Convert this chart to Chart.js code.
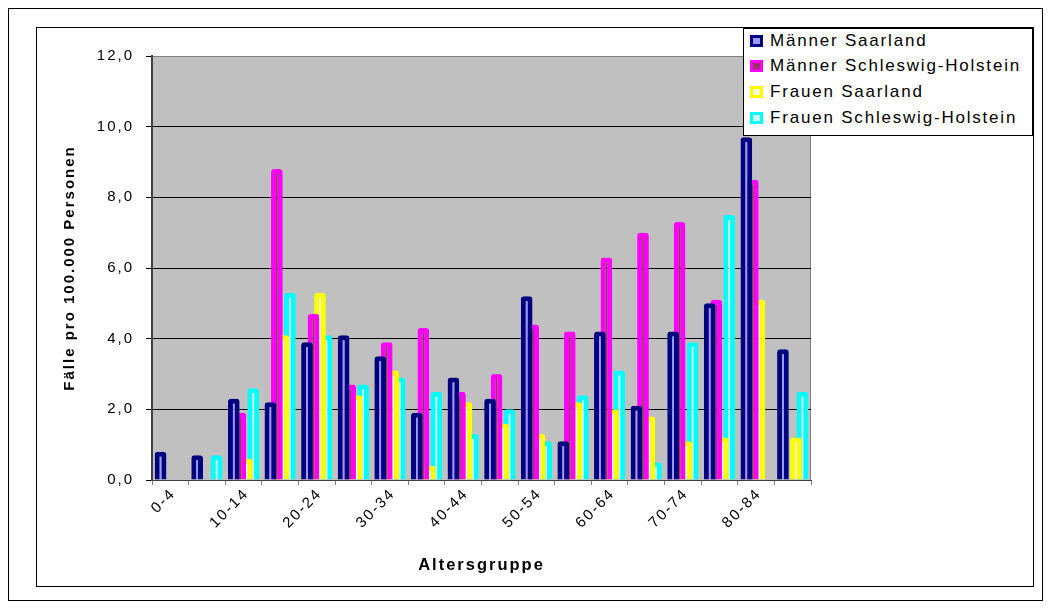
<!DOCTYPE html>
<html>
<head>
<meta charset="utf-8">
<script src="https://cdn.jsdelivr.net/npm/chart.js@4"></script>
<style>
  html, body { margin: 0; padding: 0; background: #fff; }
  #wrap { position: relative; width: 1051px; height: 610px; }
  #legend {
    position: absolute; left: 743px; top: 28px; width: 288px; height: 106px;
    border: 1px solid #000; background: #fff;
    font-family: "Liberation Sans", Arial, sans-serif; font-size: 17px;
    letter-spacing: 1.8px; color: #000;
  }
  #legend .item { position: absolute; left: 6px; height: 20px; display: flex; align-items: center; white-space: nowrap; }
  #legend .sw { width: 13px; height: 12px; box-sizing: border-box; border: 3px solid; margin-right: 7px; }
</style>
</head>
<body>
<div id="wrap">
  <canvas id="chart" width="1051" height="610"></canvas>
  <div id="legend"></div>
</div>
<script>
// Altersgruppen (5-Jahres-Klassen)
const ageGroups = ['0-4', '5-9', '10-14', '15-19', '20-24', '25-29', '30-34', '35-39', '40-44',
                   '45-49', '50-54', '55-59', '60-64', '65-69', '70-74', '75-79', '80-84', '85+'];

// Fälle pro 100.000 Personen
const maennerSaarland = [0.8, 0.7, 2.3, 2.2, 3.9, 4.1, 3.5, 1.9, 2.9, 2.3, 5.2, 1.1, 4.2, 2.1, 4.2, 5.0, 9.7, 3.7];
const maennerSH       = [0.0, 0.0, 1.9, 8.8, 4.7, 2.7, 3.9, 4.3, 2.5, 3.0, 4.4, 4.2, 6.3, 7.0, 7.3, 5.1, 8.5, 0.0];
const frauenSaarland  = [0.0, 0.0, 0.6, 4.1, 5.3, 2.4, 3.1, 0.4, 2.2, 1.6, 1.3, 2.2, 2.0, 1.8, 1.1, 1.2, 5.1, 1.2];
const frauenSH        = [0.0, 0.7, 2.6, 5.3, 4.1, 2.7, 2.9, 2.5, 1.3, 2.0, 1.1, 2.4, 3.1, 0.5, 3.9, 7.5, 0.0, 2.5];

const seriesLabels = ['Männer Saarland', 'Männer Schleswig-Holstein', 'Frauen Saarland', 'Frauen Schleswig-Holstein'];
const yTickLabels = ['0,0', '2,0', '4,0', '6,0', '8,0', '10,0', '12,0'];

const FONT = '"Liberation Sans", Arial, sans-serif';
Chart.defaults.font.family = FONT;
Chart.defaults.color = '#000';

const palette = [
  { edge: '#000080', core: '#9999FF' },
  { edge: '#FF00FF', core: '#993366' },
  { edge: '#FFFF00', core: '#FFFFCC' },
  { edge: '#00FFFF', core: '#CCFFFF' }
];

function barSet(label, data, p) {
  return {
    label, data,
    backgroundColor: p.core,
    borderColor: p.edge,
    borderWidth: 5,
    borderRadius: 3,
    borderSkipped: 'start',
    inflateAmount: 0,
    categoryPercentage: 0.71,
    barPercentage: 1.8
  };
}

// Rahmen, grauer Zeichenbereich und Zeichenabstand der Beschriftungen
const framePlugin = {
  id: 'frame',
  beforeLayout(chart) { chart.ctx.letterSpacing = '2px'; },
  beforeDraw(chart) {
    const { ctx, chartArea: a } = chart;
    ctx.save();
    ctx.fillStyle = '#fff';
    ctx.fillRect(0, 0, chart.width, chart.height);
    ctx.strokeStyle = '#000';
    ctx.lineWidth = 1;
    ctx.strokeRect(8.5, 8.5, 1034, 592);
    ctx.strokeRect(36.5, 27.5, 997, 559);
    ctx.fillStyle = '#C0C0C0';
    ctx.fillRect(a.left, a.top, a.right - a.left, a.bottom - a.top);
    ctx.strokeStyle = '#808080';
    ctx.strokeRect(a.left + 0.5, a.top + 0.5, a.right - a.left - 1, a.bottom - a.top);
    ctx.restore();
    ctx.letterSpacing = '2px';
  }
};

const chart = new Chart(document.getElementById('chart'), {
  type: 'bar',
  data: {
    labels: ageGroups,
    datasets: [
      barSet(seriesLabels[0], maennerSaarland, palette[0]),
      barSet(seriesLabels[1], maennerSH, palette[1]),
      barSet(seriesLabels[2], frauenSaarland, palette[2]),
      barSet(seriesLabels[3], frauenSH, palette[3])
    ]
  },
  options: {
    responsive: false,
    animation: false,
    events: [],
    layout: { padding: { left: 0, top: 56, right: 240, bottom: 0 } },
    plugins: { legend: { display: false }, tooltip: { enabled: false } },
    scales: {
      x: {
        grid: { offset: true, drawOnChartArea: false, drawTicks: true, tickLength: 5, tickColor: '#808080' },
        border: { display: true, color: '#404040', width: 1 },
        ticks: {
          autoSkip: false, maxRotation: 45, minRotation: 45, padding: 0, labelOffset: 3,
          font: { size: 15 },
          callback: (v, i) => (i % 2 === 0 ? ageGroups[i] : '')
        },
        title: {
          display: true, text: 'Altersgruppe',
          font: { size: 16.5, weight: 'bold' },
          padding: { top: 0, bottom: 35 }
        },
        afterFit(s) { s.height = 130; }
      },
      y: {
        min: 0, max: 12,
        ticks: {
          stepSize: 2, padding: 12,
          font: { size: 15 },
          callback: (v, i) => yTickLabels[i]
        },
        grid: {
          color: c => (c.tick && c.tick.value === 12 ? '#808080' : '#000'),
          lineWidth: 1, tickLength: 6, tickColor: '#000'
        },
        border: { display: true, color: '#404040', width: 2 },
        title: {
          display: true, text: 'Fälle pro 100.000 Personen',
          font: { size: 15, weight: 'bold' },
          padding: { top: 61, bottom: 0 }
        },
        afterFit(s) { s.width = 152; }
      }
    }
  },
  plugins: [framePlugin]
});

// Legende aus den Datensätzen
const legendEl = document.getElementById('legend');
const rowCenters = [12, 37, 63, 89];
chart.data.datasets.forEach((ds, i) => {
  const item = document.createElement('div');
  item.className = 'item';
  item.style.top = (rowCenters[i] - 10) + 'px';
  const sw = document.createElement('span');
  sw.className = 'sw';
  sw.style.borderColor = ds.borderColor;
  sw.style.background = ds.backgroundColor;
  const tx = document.createElement('span');
  tx.textContent = ds.label;
  item.appendChild(sw);
  item.appendChild(tx);
  legendEl.appendChild(item);
});
</script>
</body>
</html>
